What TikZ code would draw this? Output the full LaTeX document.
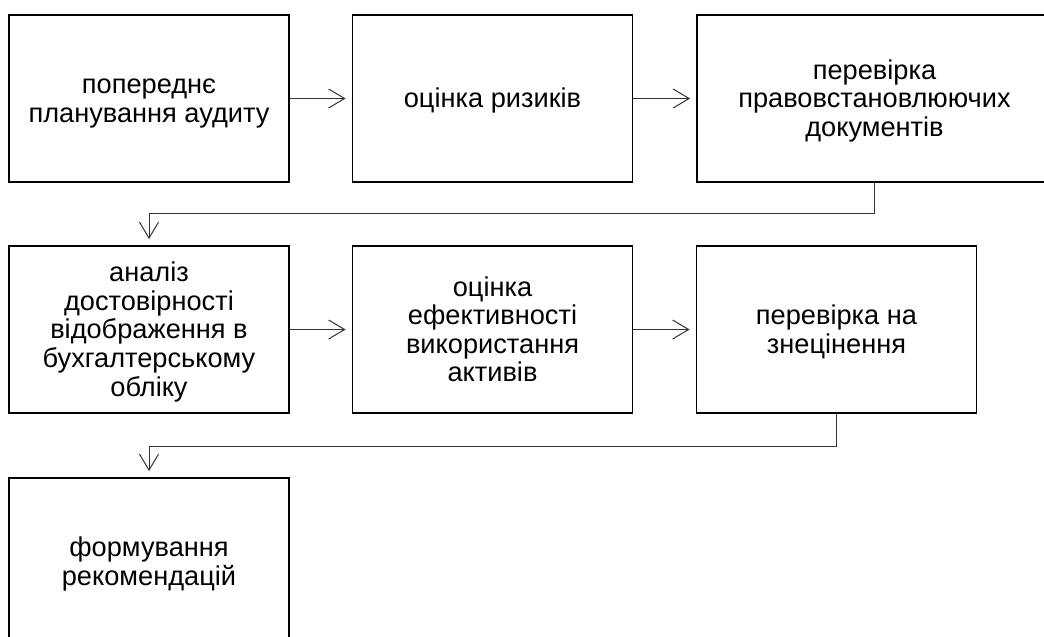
\documentclass[tikz,border=0pt]{standalone}
\usepackage{fontspec}
\setmainfont{Liberation Sans}
\usetikzlibrary{arrows.meta}
\newcommand{\topstr}{\rule{0pt}{0.905em}}
\newcommand{\botstr}{\rule[-0.212em]{0pt}{0pt}}
\begin{document}
\begin{tikzpicture}[x=1pt,y=-1pt,
  stepbox/.style={draw=black, line width=1.8pt, rectangle, minimum width=280pt, minimum height=167pt, align=center, inner sep=0pt, font=\fontsize{27.2}{28.6}\selectfont},
  conn/.style={draw=black!80, line width=1pt, -{Straight Barb[length=16pt,width=19pt]}, shorten >=6pt}]
\useasboundingbox (0,0) rectangle (1044,637);
\node[stepbox] (b1) at (149,98.5) {\topstr попереднє\\планування аудиту\botstr};
\node[stepbox] (b2) at (492.5,98.5) {\topstr оцінка ризиків\botstr};
\node[stepbox, minimum width=355pt] (b3) at (874.5,98.5) {\topstr перевірка\\правовстановлюючих\\документів\botstr};
\node[stepbox] (b4) at (149,329.5) {\topstr аналіз\\достовірності\\відображення в\\бухгалтерському\\обліку\botstr};
\node[stepbox] (b5) at (492.5,329.5) {\topstr оцінка\\ефективності\\використання\\активів\botstr};
\node[stepbox] (b6) at (836.5,329.5) {\topstr перевірка на\\знецінення\botstr};
\node[stepbox] (b7) at (149,561.5) {\topstr формування\\рекомендацій\botstr};
\draw[conn] (b1.east) -- (b2.west);
\draw[conn] (b2.east) -- (b3.west);
\draw[conn] (b3.south) -- ++(0,31) -| (b4.north);
\draw[conn] (b4.east) -- (b5.west);
\draw[conn] (b5.east) -- (b6.west);
\draw[conn] (b6.south) -- ++(0,33) -| (b7.north);
\end{tikzpicture}
\end{document}
